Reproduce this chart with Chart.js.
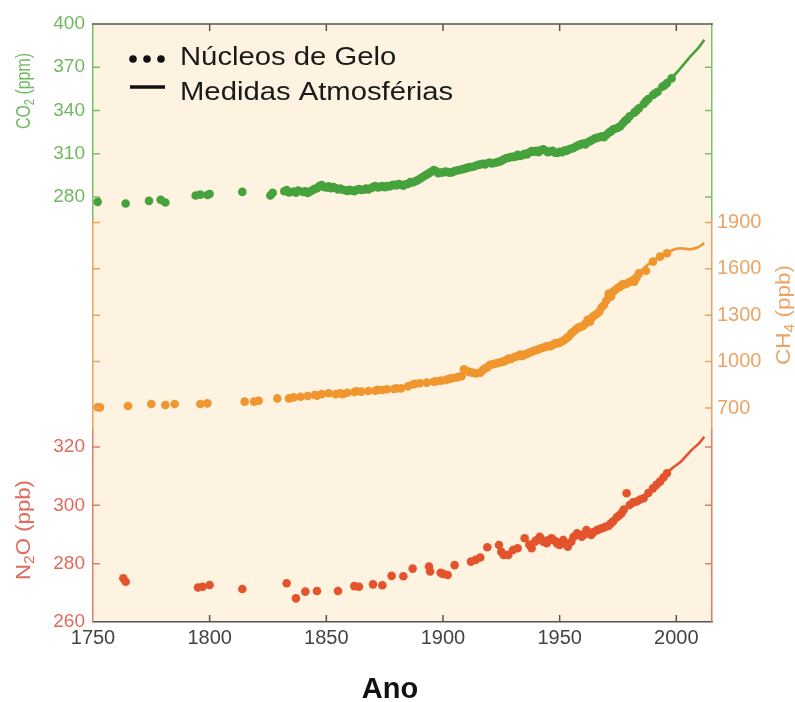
<!DOCTYPE html>
<html>
<head>
<meta charset="utf-8">
<script src="https://cdn.jsdelivr.net/npm/chart.js@4.4.1/dist/chart.umd.min.js"></script>
<style>
  html, body { margin: 0; padding: 0; background: #ffffff; }
  #wrap { width: 795px; height: 702px; }
</style>
</head>
<body>
<div id="wrap"><canvas id="c" width="795" height="702"></canvas></div>
<script>
// ---- axis ticks ----
const yearTicks = [1750, 1800, 1850, 1900, 1950, 2000];
const co2Ticks = [280, 310, 340, 370, 400];
const ch4Ticks = [700, 1000, 1300, 1600, 1900];
const n2oTicks = [260, 280, 300, 320];

// ---- CO2 (ppm): ice cores ----
const co2IceYears = [1752, 1764, 1774, 1779, 1781, 1794, 1796, 1799, 1800, 1814, 1826, 1827,
  1832, 1834, 1836, 1838, 1840, 1842, 1844, 1845, 1846, 1847, 1848, 1849, 1850, 1851, 1852, 1853,
  1855, 1857, 1859, 1861, 1863, 1865, 1867, 1868, 1869, 1871, 1873, 1875, 1877, 1878, 1879, 1881,
  1882, 1883, 1885, 1887, 1889, 1891, 1893, 1895, 1897, 1898, 1899, 1901, 1903, 1904, 1905, 1907,
  1909, 1911, 1913, 1915, 1917, 1918, 1919, 1921, 1923, 1925, 1926, 1927, 1929, 1931, 1932, 1933,
  1935, 1936, 1937, 1938, 1939, 1940, 1941, 1942, 1943, 1944, 1945, 1946, 1947, 1948, 1949, 1950,
  1952, 1953, 1954, 1956, 1957, 1958, 1960, 1961, 1962, 1964, 1965, 1966, 1968, 1969, 1970, 1971,
  1972, 1973, 1974, 1975, 1976, 1977, 1978, 1979, 1980, 1982, 1983, 1984, 1986, 1987, 1988, 1990,
  1991, 1992, 1994, 1995, 1996, 1998,
  1833, 1837, 1841, 1843, 1854, 1856, 1858, 1860, 1862, 1864, 1866, 1870, 1872, 1874, 1876, 1880,
  1884, 1886, 1888, 1890, 1892, 1894, 1896, 1900, 1902, 1906, 1908, 1910, 1912, 1914, 1916, 1920,
  1922, 1924, 1928, 1930, 1934, 1951, 1955, 1959, 1963, 1967];
const co2IceValues = [276.6, 275.5, 277.3, 278.0, 276.2, 281.0, 281.6, 281.4, 282.0, 283.5, 281.0, 282.8,
  284.0, 283.2, 283.8, 284.4, 283.5, 282.8, 284.6, 285.6, 286.0, 287.5, 288.3, 287.0, 286.5, 287.4, 286.0, 286.8,
  285.2, 285.0, 284.2, 284.5, 285.0, 284.8, 285.8, 285.2, 286.0, 287.5, 287.0, 286.8, 287.2, 288.0, 288.4, 289.0,
  288.5, 287.8, 289.0, 290.0, 291.5, 293.5, 295.5, 297.5, 298.0, 296.5, 297.0, 297.6, 296.8, 297.2, 298.0, 298.7,
  299.5, 300.5, 301.0, 302.2, 303.0, 302.5, 303.4, 303.2, 304.0, 305.0, 306.0, 306.8, 307.6, 308.0, 309.2, 308.4,
  310.0, 309.5, 310.8, 311.8, 311.4, 312.0, 311.0, 312.6, 313.0, 312.1, 311.0, 311.5, 312.0, 310.7, 310.5, 311.4,
  312.2, 312.0, 313.0, 314.0, 315.0, 315.8, 317.0, 316.5, 318.0, 319.5, 320.5, 321.0, 322.0, 321.5, 323.0, 324.5,
  325.5, 327.0, 327.5, 328.0, 329.0, 331.0, 332.8, 334.0, 336.0, 338.5, 340.0, 341.5, 344.5, 346.5, 348.0, 350.7,
  352.0, 353.0, 356.5, 357.5, 359.0, 362.3,
  284.8, 283.0, 284.0, 283.6, 286.2, 285.8, 284.6, 285.0, 284.0, 285.5, 285.0, 286.8, 286.6, 287.5, 287.6, 288.0,
  288.8, 290.4, 290.8, 292.5, 294.5, 296.5, 298.6, 297.0, 297.2, 298.4, 299.0, 300.0, 300.8, 301.6, 302.6, 303.8,
  303.6, 304.5, 307.2, 307.8, 309.0, 311.0, 313.5, 316.5, 318.7, 321.4];
// ---- CO2 (ppm): atmospheric measurements ----
const co2AirYears = [1958, 1965, 1970, 1975, 1980, 1985, 1990, 1995, 2000, 2005, 2010, 2012];
const co2AirValues = [316.0, 319.8, 323.5, 329.0, 335.5, 343.0, 350.5, 358.0, 366.0, 375.5, 384.5, 389.0];

// ---- CH4 (ppb): ice cores ----
const ch4IceYears = [1752, 1753, 1765, 1775, 1781, 1785, 1796, 1799, 1815, 1819, 1821, 1829,
  1834, 1836, 1839, 1842, 1845, 1846, 1848, 1851, 1854, 1856, 1857, 1859, 1862, 1863, 1865, 1868,
  1871, 1872, 1874, 1876, 1879, 1880, 1882, 1885, 1887, 1888, 1890, 1893, 1896, 1897, 1899, 1902,
  1904, 1907, 1909, 1911, 1912, 1914, 1916, 1919, 1920, 1922, 1924, 1926, 1928, 1929, 1931, 1933,
  1934, 1936, 1938, 1939, 1941, 1942, 1944, 1946, 1947, 1948, 1950, 1952, 1953, 1955, 1956, 1957,
  1958, 1960, 1962, 1963, 1964, 1965, 1967, 1968, 1969, 1970, 1971, 1972, 1973, 1974, 1976, 1977,
  1979, 1982, 1984, 1987, 1990, 1993, 1996,
  1901, 1903, 1906, 1908, 1913, 1917, 1918, 1921, 1923, 1925, 1927, 1930, 1932, 1935, 1937, 1940,
  1943, 1945, 1949, 1951, 1954, 1959, 1961, 1966, 1975, 1978, 1980, 1983];
const ch4IceValues = [705, 704, 713, 726, 719, 726, 726, 730, 741, 741, 747, 762,
  762, 769, 773, 778, 784, 780, 790, 795, 790, 795, 790, 799, 803, 808, 806, 810,
  812, 817, 816, 821, 823, 827, 827, 840, 852, 856, 860, 864, 870, 873, 877, 885,
  892, 903, 950, 935, 930, 924, 929, 963, 978, 985, 993, 1000, 1020, 1015, 1032, 1045,
  1036, 1049, 1062, 1071, 1080, 1086, 1097, 1100, 1108, 1118, 1123, 1140, 1151, 1183, 1195, 1209,
  1220, 1231, 1270, 1259, 1287, 1300, 1323, 1350, 1366, 1395, 1440, 1420, 1453, 1465, 1485, 1500,
  1507, 1517, 1571, 1588, 1647, 1679, 1701,
  880, 890, 898, 905, 928, 945, 955, 982, 990, 998, 1008, 1025, 1035, 1045, 1058, 1075,
  1090, 1100, 1118, 1130, 1165, 1225, 1245, 1310, 1478, 1500, 1515, 1545];
// ---- CH4 (ppb): atmospheric measurements ----
const ch4AirYears = [1980, 1984, 1988, 1992, 1996, 2000, 2003, 2006, 2009, 2012];
const ch4AirValues = [1535, 1575, 1630, 1672, 1705, 1730, 1732, 1727, 1738, 1766];

// ---- N2O (ppb): ice cores ----
const n2oIceYears = [1763, 1764, 1795, 1797, 1800, 1814, 1833, 1837, 1841, 1846, 1855, 1862,
  1864, 1870, 1874, 1878, 1883, 1887, 1894, 1894.5, 1899, 1900, 1902, 1905, 1912, 1914, 1916, 1919,
  1924, 1925, 1926, 1928, 1930, 1932, 1935, 1938, 1939.5, 1941.5, 1943, 1944.5, 1946.5, 1948.5, 1950,
  1951.5, 1953.5, 1956, 1957.5, 1959.5, 1961.5, 1963.5, 1966, 1968, 1970, 1972, 1974.5, 1976.5, 1978.7,
  1980, 1983, 1986, 1990, 1993, 1996,
  1937, 1940, 1942, 1945, 1947.5, 1949, 1952.5, 1955, 1958.5, 1960.5, 1962.5, 1964.5, 1967, 1969,
  1971, 1973, 1975.5, 1977.5, 1981.5, 1984.5, 1988, 1991.5, 1994.5];
const n2oIceValues = [275.0, 273.8, 271.8, 272.1, 272.7, 271.3, 273.3, 268.1, 270.4, 270.6, 270.6, 272.3,
  272.1, 272.9, 272.6, 275.8, 275.7, 278.3, 279.0, 277.3, 276.9, 276.5, 276.1, 279.5, 280.7, 281.3, 282.1, 285.6,
  286.4, 284.1, 283.0, 283.0, 284.7, 285.3, 288.7, 285.3, 287.5, 289.2, 287.5, 287.0, 288.7, 287.5, 286.4,
  288.1, 285.8, 289.2, 290.4, 289.2, 291.5, 289.8, 291.5, 292.1, 292.7, 293.8, 295.9, 297.3, 304.1,
  300.1, 301.3, 302.4, 305.8, 308.1, 311.0,
  286.5, 288.0, 288.5, 288.0, 288.0, 286.8, 287.0, 287.5, 289.8, 290.0, 290.5, 290.8, 291.8, 292.4,
  293.0, 294.5, 296.5, 298.5, 301.0, 302.0, 304.2, 307.0, 309.5];
// ---- N2O (ppb): atmospheric measurements ----
const n2oAirYears = [1978, 1982, 1986, 1990, 1994, 1998, 2002, 2006, 2010, 2012];
const n2oAirValues = [299.0, 301.0, 303.0, 306.0, 309.5, 312.5, 315.0, 318.5, 321.5, 323.5];

// ---- legend & titles ----
const legendLabels = ['Núcleos de Gelo', 'Medidas Atmosférias'];
const xTitle = 'Ano';

const colors = {
  co2: '#45a23c', co2Text: '#70b860', co2Axis: '#7cbc6c',
  ch4: '#f0962e', ch4Text: '#eca466', ch4Axis: '#e6a466',
  n2o: '#e3542c', n2oText: '#e06a5c', n2oAxis: '#d9806c',
  frame: '#555555', xText: '#444444', plotBg: '#fdf3e0'
};
const FONT = '"Liberation Sans", Arial, sans-serif';

function pairs(xs, ys) { return xs.map((x, i) => ({ x, y: ys[i] })); }
function fixedTicks(list) { return (scale) => { scale.ticks = list.map(v => ({ value: v })); }; }
function fixWidth(w) { return (scale) => { scale.width = w; }; }

function yAxis(opts) {
  return Object.assign({
    type: 'linear',
    grid: { display: false, drawTicks: false },
    border: { color: opts.axisColor, width: 1.5 },
    ticks: {
      display: opts.labels !== false,
      color: opts.textColor,
      font: { family: FONT, size: opts.size || 19 },
      padding: opts.padding || 8,
      autoSkip: false,
      callback: v => String(v)
    },
    afterBuildTicks: fixedTicks(opts.tickList),
    afterFit: fixWidth(opts.width)
  }, opts.extra);
}

const lineDs = (data, axis, color) => ({
  data, yAxisID: axis, showLine: true, borderColor: color, borderWidth: 2.6,
  pointRadius: 0, tension: 0.35, fill: false
});
const dotDs = (data, axis, color) => ({
  data, yAxisID: axis, showLine: false, backgroundColor: color, borderWidth: 0,
  pointRadius: 4.3
});

// background, inner tick marks, top edge, titles and legend
const decorations = {
  id: 'decorations',
  beforeDraw(chart) {
    const { ctx, chartArea: a } = chart;
    ctx.save();
    ctx.fillStyle = colors.plotBg;
    ctx.fillRect(a.left, a.top, a.right - a.left, a.bottom - a.top);
    ctx.restore();
  },
  afterDraw(chart) {
    const { ctx, chartArea: a, scales } = chart;
    const len = 7;
    ctx.save();
    ctx.lineWidth = 1.5;
    // y tick marks on both sides, pointing inwards
    [['yCO2', co2Ticks, colors.co2Axis], ['yCH4', ch4Ticks, colors.ch4Axis], ['yN2O', n2oTicks, colors.n2oAxis]]
      .forEach(([id, list, col]) => {
        const s = scales[id];
        ctx.strokeStyle = col;
        list.forEach(v => {
          const p = s.getPixelForValue(v);
          if (p <= a.top + 1 || p >= a.bottom - 1) return;
          ctx.beginPath();
          ctx.moveTo(a.left, p); ctx.lineTo(a.left + len, p);
          ctx.moveTo(a.right, p); ctx.lineTo(a.right - len, p);
          ctx.stroke();
        });
      });
    // x tick marks top and bottom
    ctx.strokeStyle = colors.frame;
    yearTicks.forEach(v => {
      const p = scales.x.getPixelForValue(v);
      if (p <= a.left + 1) return;
      ctx.beginPath();
      ctx.moveTo(p, a.bottom); ctx.lineTo(p, a.bottom - len);
      ctx.moveTo(p, a.top); ctx.lineTo(p, a.top + len);
      ctx.stroke();
    });
    // top edge of the frame
    ctx.beginPath();
    ctx.moveTo(a.left - 0.75, a.top); ctx.lineTo(a.right + 0.75, a.top);
    ctx.stroke();
    ctx.restore();

    // rotated axis titles with subscripts
    drawTitle(ctx, [['CO'], ['2', 1], [' (ppm)']], 24, 91, 76, colors.co2Text);
    drawTitle(ctx, [['CH'], ['4', 1], [' (ppb)']], 784, 315, 100, colors.ch4Text);
    drawTitle(ctx, [['N'], ['2', 1], ['O (ppb)']], 24, 530, 100, colors.n2oText);

    // x title
    ctx.save();
    ctx.fillStyle = '#111111';
    ctx.font = 'bold 29px ' + FONT;
    ctx.textAlign = 'center';
    ctx.textBaseline = 'alphabetic';
    ctx.fillText(xTitle, 390, 698);
    ctx.restore();

    // legend
    ctx.save();
    ctx.fillStyle = '#111111';
    ctx.strokeStyle = '#111111';
    [133, 147, 161].forEach(x => {
      ctx.beginPath(); ctx.arc(x, 59, 3.8, 0, Math.PI * 2); ctx.fill();
    });
    ctx.lineWidth = 3.4;
    ctx.beginPath(); ctx.moveTo(130, 87); ctx.lineTo(165, 87); ctx.stroke();
    ctx.font = '25px ' + FONT;
    ctx.fillStyle = '#1a1a1a';
    ctx.textBaseline = 'alphabetic';
    [[legendLabels[0], 65], [legendLabels[1], 100]].forEach(([t, y]) => {
      ctx.save();
      ctx.translate(180, y);
      ctx.scale(1.17, 1);
      ctx.fillText(t, 0, 0);
      ctx.restore();
    });
    ctx.restore();
  }
};

function drawTitle(ctx, parts, cx, cy, length, color) {
  const size = 20;
  const main = size + 'px ' + FONT;
  const sub = Math.round(size * 0.68) + 'px ' + FONT;
  ctx.save();
  const widths = parts.map(([t, s]) => { ctx.font = s ? sub : main; return ctx.measureText(t).width; });
  const total = widths.reduce((p, q) => p + q, 0);
  ctx.translate(cx, cy);
  ctx.rotate(-Math.PI / 2);
  ctx.scale(length / total, 1);
  ctx.fillStyle = color;
  ctx.textBaseline = 'middle';
  let x = -total / 2;
  parts.forEach(([t, s], i) => {
    ctx.font = s ? sub : main;
    ctx.fillText(t, x, s ? size * 0.3 : 0);
    x += widths[i];
  });
  ctx.restore();
}

new Chart(document.getElementById('c'), {
  type: 'scatter',
  data: {
    datasets: [
      dotDs(pairs(co2IceYears, co2IceValues), 'yCO2', colors.co2),
      lineDs(pairs(co2AirYears, co2AirValues), 'yCO2', colors.co2),
      dotDs(pairs(ch4IceYears, ch4IceValues), 'yCH4', colors.ch4),
      lineDs(pairs(ch4AirYears, ch4AirValues), 'yCH4', colors.ch4),
      dotDs(pairs(n2oIceYears, n2oIceValues), 'yN2O', colors.n2o),
      lineDs(pairs(n2oAirYears, n2oAirValues), 'yN2O', colors.n2o)
    ]
  },
  options: {
    responsive: false,
    animation: false,
    layout: { padding: { top: 24, left: 0, right: 0, bottom: 0 } },
    plugins: { legend: { display: false }, tooltip: { enabled: false } },
    scales: {
      x: {
        type: 'linear', position: 'bottom', min: 1750, max: 2015.3,
        grid: { display: false, drawTicks: false },
        border: { color: colors.frame, width: 1.5 },
        ticks: { color: colors.xText, font: { family: FONT, size: 20 }, padding: 4,
          autoSkip: false, maxRotation: 0, callback: v => String(v) },
        afterBuildTicks: fixedTicks(yearTicks),
        afterFit: (s) => { s.height = 80; }
      },
      // left stack (listed bottom-up)
      yN2O: yAxis({ tickList: n2oTicks, textColor: colors.n2oText, axisColor: colors.n2oAxis, width: 93,
        extra: { position: 'left', stack: 'side', stackWeight: 192, min: 260, max: 325.8 } }),
      yCH4L: yAxis({ tickList: ch4Ticks, labels: false, axisColor: colors.ch4Axis, width: 93,
        extra: { position: 'left', stack: 'side', stackWeight: 211, min: 557.7, max: 1922.6 } }),
      yCO2: yAxis({ tickList: co2Ticks, textColor: colors.co2Text, axisColor: colors.co2Axis, width: 93,
        extra: { position: 'left', stack: 'side', stackWeight: 195, min: 264.7, max: 400 } }),
      // right stack (listed top-down)
      yCO2R: yAxis({ tickList: co2Ticks, labels: false, axisColor: colors.co2Axis, width: 83,
        extra: { position: 'right', stack: 'side', stackWeight: 195, min: 264.7, max: 400 } }),
      yCH4: yAxis({ tickList: ch4Ticks, textColor: colors.ch4Text, axisColor: colors.ch4Axis, width: 83,
        size: 20, padding: 5,
        extra: { position: 'right', stack: 'side', stackWeight: 211, min: 557.7, max: 1922.6 } }),
      yN2OR: yAxis({ tickList: n2oTicks, labels: false, axisColor: colors.n2oAxis, width: 83,
        extra: { position: 'right', stack: 'side', stackWeight: 192, min: 260, max: 325.8 } })
    }
  },
  plugins: [decorations]
});
</script>
</body>
</html>
